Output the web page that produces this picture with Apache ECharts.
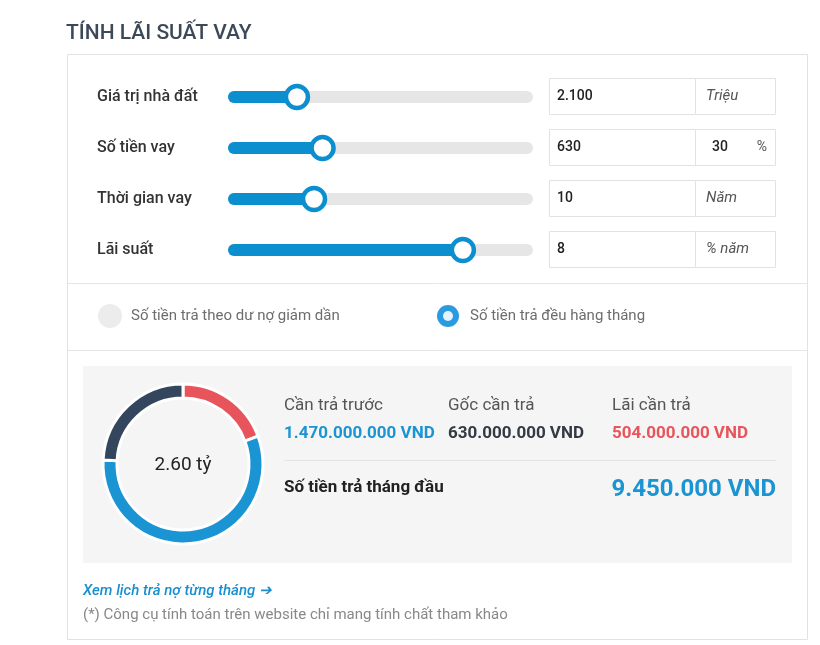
<!DOCTYPE html>
<html><head><meta charset="utf-8">
<script src="https://cdn.jsdelivr.net/npm/echarts@6/dist/echarts.min.js"></script>
<style>html,body{margin:0;padding:0;background:#fff}#c{width:820px;height:645px}</style>
</head><body><div id="c"></div>
<script>
// ---- data ----
const sliderLabels = ['Giá trị nhà đất', 'Số tiền vay', 'Thời gian vay', 'Lãi suất'];
const sliderPercent = [22.6, 31.0, 28.2, 77.0];
const inputValues = ['2.100', '630', '10', '8'];
const inputUnits = ['Triệu', '%', 'Năm', '% năm'];
const loanPercent = '30';
const radioLabels = ['Số tiền trả theo dư nợ giảm dần', 'Số tiền trả đều hàng tháng'];
const pieNames = ['Lãi cần trả', 'Cần trả trước', 'Gốc cần trả'];
const pieValues = [504, 1470, 630]; // triệu VND
const pieColors = ['#e8545b', '#1a94d2', '#34465e'];
const firstMonth = '9.450.000 VND';

const fmt = v => (v * 1000000).toLocaleString('de-DE') + ' VND';
const total = pieValues.reduce((a, b) => a + b, 0);

const FONT = 'Roboto, "Noto Sans", sans-serif';
const g = [];
// title
g.push({type:'text', style:{x:66, y:34, text:'TÍNH LÃI SUẤT VAY', font:'500 21px ' + FONT, fill:'#3c4959', verticalAlign:'middle'}});
// outer box
g.push({type:'rect', z:-10, shape:{x:67.5, y:54.5, width:740, height:585}, style:{fill:'#fff', stroke:'#e2e2e2', lineWidth:1}});
g.push({type:'line', shape:{x1:68, y1:283.5, x2:807, y2:283.5}, style:{stroke:'#e6e6e6', lineWidth:1}});
g.push({type:'line', shape:{x1:68, y1:350.5, x2:807, y2:350.5}, style:{stroke:'#e6e6e6', lineWidth:1}});
// gray result box
g.push({type:'rect', z:-9, shape:{x:83, y:366, width:709, height:197}, style:{fill:'#f5f5f5'}});
// input boxes
for (let i = 0; i < 4; i++) {
  const y = 78 + 51 * i;
  g.push({type:'rect', shape:{x:549.5, y:y + 0.5, width:146, height:36}, style:{fill:'#fff', stroke:'#e2e2e2'}});
  g.push({type:'rect', shape:{x:695.5, y:y + 0.5, width:80, height:36}, style:{fill:'#fff', stroke:'#e2e2e2'}});
  g.push({type:'text', style:{x:557, y:y + 18, text:inputValues[i], font:'500 14px ' + FONT, fill:'#222', verticalAlign:'middle'}});
  if (i === 1) {
    g.push({type:'text', style:{x:712, y:y + 18, text:loanPercent, font:'500 14px ' + FONT, fill:'#222', verticalAlign:'middle'}});
    g.push({type:'text', style:{x:767, y:y + 18, text:inputUnits[i], font:'14px ' + FONT, fill:'#555', align:'right', verticalAlign:'middle'}});
  } else {
    g.push({type:'text', style:{x:706, y:y + 18, text:inputUnits[i], font:'italic 15px ' + FONT, fill:'#555', verticalAlign:'middle'}});
  }
}
// radios
g.push({type:'circle', shape:{cx:110, cy:316, r:12}, style:{fill:'#ececec'}});
g.push({type:'text', style:{x:131, y:316, text:radioLabels[0], font:'15px ' + FONT, fill:'#6d6d6d', verticalAlign:'middle'}});
g.push({type:'circle', shape:{cx:448, cy:316, r:11}, style:{fill:'#2b9be0'}});
g.push({type:'circle', shape:{cx:448, cy:316, r:5}, style:{fill:'#e4f3fc'}});
g.push({type:'text', style:{x:470, y:316, text:radioLabels[1], font:'15px ' + FONT, fill:'#6d6d6d', verticalAlign:'middle'}});
// donut center text
g.push({type:'text', z:10, style:{x:183, y:465, text:(total / 1000).toFixed(2) + ' tỷ', font:'19px ' + FONT, fill:'#222', align:'center', verticalAlign:'middle'}});
// result columns
const cols = [{x:284, name:pieNames[1], v:pieValues[1], c:pieColors[1]},
              {x:448, name:pieNames[2], v:pieValues[2], c:'#333a44'},
              {x:612, name:pieNames[0], v:pieValues[0], c:pieColors[0]}];
cols.forEach(o => {
  g.push({type:'text', style:{x:o.x, y:406, text:o.name, font:'17px ' + FONT, fill:'#555', verticalAlign:'middle'}});
  g.push({type:'text', style:{x:o.x, y:434, text:fmt(o.v), font:'bold 17px ' + FONT, fill:o.c, verticalAlign:'middle'}});
});
g.push({type:'line', shape:{x1:284, y1:460.5, x2:776, y2:460.5}, style:{stroke:'#e3e3e3', lineWidth:1}});
g.push({type:'text', style:{x:284, y:488, text:'Số tiền trả tháng đầu', font:'bold 17px ' + FONT, fill:'#222', verticalAlign:'middle'}});
g.push({type:'text', style:{x:776, y:490, text:firstMonth, font:'bold 24px ' + FONT, fill:'#1a94d2', align:'right', verticalAlign:'middle'}});
// footer
g.push({type:'text', style:{x:83, y:591, text:'Xem lịch trả nợ từng tháng ➔', font:'italic 500 15px ' + FONT, fill:'#1a8fd0', verticalAlign:'middle'}});
g.push({type:'text', style:{x:83, y:615, text:'(*) Công cụ tính toán trên website chỉ mang tính chất tham khảo', font:'15px ' + FONT, fill:'#888', verticalAlign:'middle'}});

const chart = echarts.init(document.getElementById('c'), null, {renderer:'canvas'});
chart.setOption({
  animation:false,
  backgroundColor:'#fff',
  graphic:g,
  grid:{left:228, right:287, top:71.5, height:204},
  xAxis:{type:'value', min:0, max:100, show:false},
  yAxis:{type:'category', inverse:true, data:sliderLabels, axisLine:{show:false}, axisTick:{show:false},
         axisLabel:{align:'left', margin:131, fontFamily:FONT, fontSize:16, fontWeight:500, color:'#333'}},
  series:[
    {type:'bar', data:sliderPercent, barWidth:12, z:2,
     itemStyle:{color:'#0b8fcf', borderRadius:6},
     showBackground:true, backgroundStyle:{color:'#e6e6e6', borderRadius:6}},
    {type:'scatter', data:sliderPercent.map((v, i) => [v, i]), symbolSize:22, z:3,
     itemStyle:{color:'#fff', borderColor:'#0b8fcf', borderWidth:4.5, opacity:1}},
    {type:'pie', center:[183, 464], radius:[66, 80], startAngle:90, clockwise:true,
     label:{show:false}, labelLine:{show:false}, silent:true,
     itemStyle:{borderColor:'#fff', borderWidth:3},
     data:pieValues.map((v, i) => ({name:pieNames[i], value:v, itemStyle:{color:pieColors[i]}}))}
  ]
});
</script></body></html>
